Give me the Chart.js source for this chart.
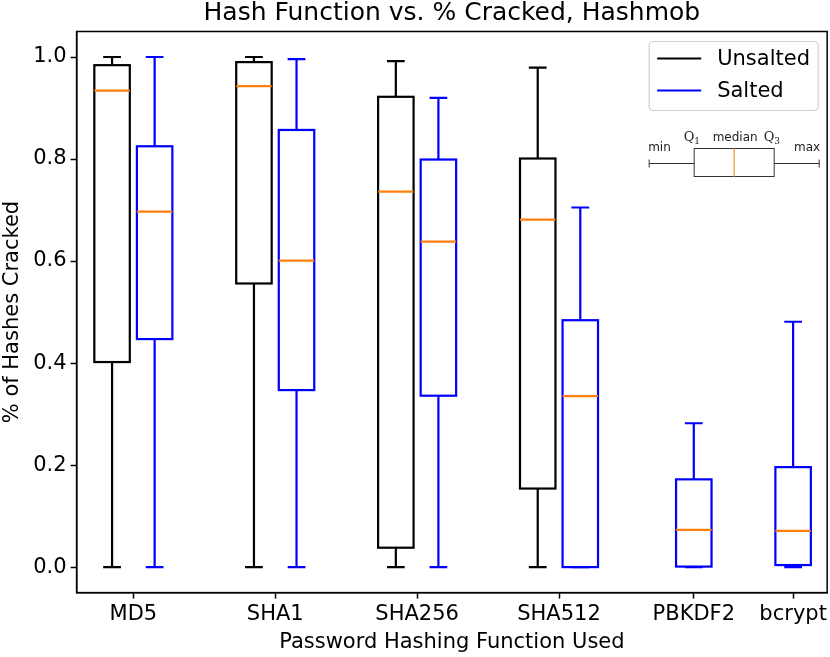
<!DOCTYPE html>
<html>
<head>
<meta charset="utf-8">
<script src="https://cdn.jsdelivr.net/npm/chart.js@4.4.1/dist/chart.umd.min.js"></script>
<style>
  html, body { margin: 0; padding: 0; background: #fff; }
  #wrap { width: 830px; height: 657px; }
</style>
</head>
<body>
<div id="wrap"><canvas id="boxChart"></canvas></div>
<script>
// Categorias e posições no eixo x
const categories = ['MD5', 'SHA1', 'SHA256', 'SHA512', 'PBKDF2', 'bcrypt'];
const tickPositions = [1, 2, 3, 4, 4.95, 5.65];

// Unsalted (só as quatro primeiras funções)
const unsaltedPos = [0.85, 1.85, 2.85, 3.85];
const unsaltedMin = [0, 0, 0, 0];
const unsaltedQ1 = [0.402, 0.556, 0.038, 0.154];
const unsaltedMedian = [0.934, 0.943, 0.736, 0.681];
const unsaltedQ3 = [0.984, 0.990, 0.922, 0.801];
const unsaltedMax = [1.0, 1.0, 0.992, 0.979];

// Salted
const saltedPos = [1.15, 2.15, 3.15, 4.15, 4.95, 5.65];
const saltedMin = [0, 0, 0, 0, 0, 0];
const saltedQ1 = [0.447, 0.347, 0.336, 0, 0.001, 0.004];
const saltedMedian = [0.697, 0.601, 0.638, 0.335, 0.073, 0.071];
const saltedQ3 = [0.825, 0.857, 0.799, 0.484, 0.172, 0.196];
const saltedMax = [1.0, 0.996, 0.920, 0.705, 0.282, 0.481];

const yTicks = [0, 0.2, 0.4, 0.6, 0.8, 1.0];
const boxWidth = 0.25;

function montaCaixas(pos, mn, q1, med, q3, mx) {
  return pos.map((x, i) => ({ x: x, y: med[i], min: mn[i], q1: q1[i], q3: q3[i], max: mx[i] }));
}

const FONT = "'DejaVu Sans', sans-serif";

// Desenha as caixas usando as escalas do Chart.js
const boxPlugin = {
  id: 'boxes',
  beforeDraw(chart) {
    const ctx = chart.ctx;
    ctx.save();
    ctx.fillStyle = '#fff';
    ctx.fillRect(0, 0, chart.width, chart.height);
    ctx.restore();
  },
  afterDatasetsDraw(chart) {
    const ctx = chart.ctx;
    const xs = chart.scales.x, ys = chart.scales.y;
    ctx.save();
    chart.data.datasets.forEach(ds => {
      ds.data.forEach(b => {
        const xl = xs.getPixelForValue(b.x - boxWidth / 2);
        const xr = xs.getPixelForValue(b.x + boxWidth / 2);
        const xc = xs.getPixelForValue(b.x);
        const cw = (xr - xl) / 4;
        const yMin = ys.getPixelForValue(b.min), yQ1 = ys.getPixelForValue(b.q1);
        const yMed = ys.getPixelForValue(b.y), yQ3 = ys.getPixelForValue(b.q3);
        const yMax = ys.getPixelForValue(b.max);
        ctx.strokeStyle = ds.borderColor;
        ctx.lineWidth = 2.2;
        ctx.beginPath();
        // whiskers
        ctx.moveTo(xc, yQ1); ctx.lineTo(xc, yMin);
        ctx.moveTo(xc - cw, yMin); ctx.lineTo(xc + cw, yMin);
        ctx.moveTo(xc, yQ3); ctx.lineTo(xc, yMax);
        ctx.moveTo(xc - cw, yMax); ctx.lineTo(xc + cw, yMax);
        ctx.stroke();
        ctx.strokeRect(xl, yQ3, xr - xl, yQ1 - yQ3);
        ctx.strokeStyle = '#ff7f0e';
        ctx.beginPath();
        ctx.moveTo(xl, yMed); ctx.lineTo(xr, yMed);
        ctx.stroke();
      });
    });
    ctx.restore();
  },
  afterDraw(chart) {
    const ctx = chart.ctx;
    const a = chart.chartArea;
    ctx.save();
    // moldura
    ctx.strokeStyle = '#000';
    ctx.lineWidth = 1.5;
    ctx.strokeRect(a.left, a.top, a.right - a.left, a.bottom - a.top);

    // legenda
    const lx = a.right - 178, ly = a.top + 10;
    ctx.fillStyle = 'rgba(255,255,255,0.8)';
    ctx.strokeStyle = '#d0d0d0';
    ctx.lineWidth = 1.2;
    ctx.beginPath();
    ctx.roundRect(lx, ly, 169, 69, 4);
    ctx.fill();
    ctx.stroke();
    ctx.font = '21px ' + FONT;
    ctx.textBaseline = 'middle';
    chart.data.datasets.forEach((ds, i) => {
      const y = ly + 17 + i * 32;
      ctx.strokeStyle = ds.borderColor;
      ctx.lineWidth = 2;
      ctx.beginPath();
      ctx.moveTo(lx + 8, y); ctx.lineTo(lx + 52, y);
      ctx.stroke();
      ctx.fillStyle = '#000';
      ctx.fillText(ds.label, lx + 68, y + 1);
    });

    // diagrama explicativo
    const ix = lx, iy = ly + 122;
    ctx.strokeStyle = '#333';
    ctx.lineWidth = 1;
    ctx.beginPath();
    ctx.moveTo(ix, iy); ctx.lineTo(ix + 45, iy);
    ctx.moveTo(ix + 125, iy); ctx.lineTo(ix + 170, iy);
    ctx.moveTo(ix, iy - 4); ctx.lineTo(ix, iy + 4);
    ctx.moveTo(ix + 170, iy - 4); ctx.lineTo(ix + 170, iy + 4);
    ctx.stroke();
    ctx.strokeRect(ix + 45, iy - 15, 80, 28);
    ctx.strokeStyle = '#f5a65b';
    ctx.lineWidth = 1.5;
    ctx.beginPath();
    ctx.moveTo(ix + 85, iy - 15); ctx.lineTo(ix + 85, iy + 13);
    ctx.stroke();
    ctx.fillStyle = '#222';
    ctx.font = '12px ' + FONT;
    ctx.textBaseline = 'alphabetic';
    ctx.textAlign = 'left';
    ctx.fillText('min', ix - 1, iy - 13);
    ctx.textAlign = 'right';
    ctx.fillText('max', ix + 171, iy - 13);
    ctx.textAlign = 'center';
    ctx.fillText('median', ix + 86, iy - 23);
    ctx.font = '13px "DejaVu Serif", serif';
    ctx.fillText('Q', ix + 40, iy - 23);
    ctx.fillText('Q', ix + 120, iy - 23);
    ctx.font = '9px "DejaVu Serif", serif';
    ctx.fillText('1', ix + 48, iy - 20);
    ctx.fillText('3', ix + 128, iy - 20);
    ctx.restore();
  }
};

new Chart(document.getElementById('boxChart'), {
  type: 'scatter',
  data: {
    datasets: [
      {
        label: 'Unsalted',
        data: montaCaixas(unsaltedPos, unsaltedMin, unsaltedQ1, unsaltedMedian, unsaltedQ3, unsaltedMax),
        borderColor: '#000000',
        pointRadius: 0
      },
      {
        label: 'Salted',
        data: montaCaixas(saltedPos, saltedMin, saltedQ1, saltedMedian, saltedQ3, saltedMax),
        borderColor: '#0000ff',
        pointRadius: 0
      }
    ]
  },
  options: {
    responsive: true,
    maintainAspectRatio: false,
    animation: false,
    layout: { padding: { left: 0, right: 2, top: 0, bottom: 2 } },
    plugins: {
      legend: { display: false },
      tooltip: { enabled: false },
      title: {
        display: true,
        fullSize: false,
        text: 'Hash Function vs. % Cracked, Hashmob',
        color: '#000',
        font: { family: FONT, size: 25, weight: 'normal', lineHeight: 1.1 },
        padding: { top: 0, bottom: 4 }
      }
    },
    scales: {
      x: {
        type: 'linear',
        min: 0.6,
        max: 5.89,
        afterBuildTicks: s => { s.ticks = tickPositions.map(v => ({ value: v })); },
        ticks: {
          autoSkip: false,
          maxRotation: 0,
          color: '#000',
          font: { family: FONT, size: 21 },
          padding: 3,
          callback: v => categories[tickPositions.indexOf(v)]
        },
        grid: { drawOnChartArea: false, drawTicks: true, tickLength: 6, tickColor: '#000', tickWidth: 1.5 },
        border: { display: true, color: '#000', width: 1.5 },
        title: {
          display: true,
          text: 'Password Hashing Function Used',
          color: '#000',
          font: { family: FONT, size: 21 },
          padding: { top: 0, bottom: 0 }
        }
      },
      y: {
        min: -0.05,
        max: 1.05,
        afterBuildTicks: s => { s.ticks = yTicks.map(v => ({ value: v })); },
        ticks: {
          color: '#000',
          font: { family: FONT, size: 21 },
          padding: 4,
          callback: v => v.toFixed(1)
        },
        grid: { drawOnChartArea: false, drawTicks: true, tickLength: 6, tickColor: '#000', tickWidth: 1.5 },
        border: { display: true, color: '#000', width: 1.5 },
        title: {
          display: true,
          text: '% of Hashes Cracked',
          color: '#000',
          font: { family: FONT, size: 21 },
          padding: { top: 0, bottom: 4 }
        }
      }
    }
  },
  plugins: [boxPlugin]
});
</script>
</body>
</html>
